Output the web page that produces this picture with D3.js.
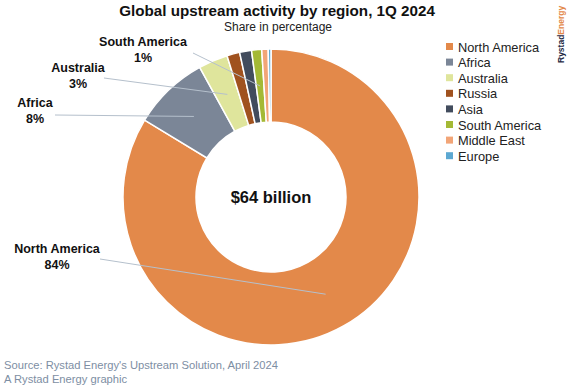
<!DOCTYPE html>
<html lang="en">
  <head>
    <meta charset="utf-8" />
    <title>Global upstream activity by region</title>
    <script src="https://cdn.jsdelivr.net/npm/d3@7"></script>
    <style>
      body { margin: 0; background: #fff; }
      text { font-family: "Liberation Sans", Arial, sans-serif; }
    </style>
  </head>
  <body>
    <script>
      // chart data
      const regions = ["North America", "Africa", "Australia", "Russia", "Asia", "South America", "Middle East", "Europe"];
      const shares = [83.7, 8.3, 3.2, 1.4, 1.3, 1.1, 0.7, 0.3];
      const colors = ["#e3894a", "#7b8697", "#dfe59c", "#a0521f", "#424c5d", "#a4b935", "#f2a577", "#5ca8d2"];
      // regions that get a callout, and the text shown
      const calloutRegions = ["South America", "Australia", "Africa", "North America"];
      const calloutText = ["1%", "3%", "8%", "84%"];

      const W = 567, H = 388;
      const CX = 271, CY = 197, R_OUT = 148, R_IN = 75;

      // where the callout labels sit: text centre x, baseline y, line start x, y
      const calloutPos = {
        "South America": [143, 46, 193, 53],
        "Australia": [78, 72, 104, 78],
        "Africa": [35, 107, 55, 115],
        "North America": [57, 253, 100, 259]
      };

      const svg = d3.select("body").append("svg")
        .attr("width", W).attr("height", H);

      svg.append("text")
        .attr("x", 277).attr("y", 16)
        .attr("text-anchor", "middle")
        .attr("font-size", 15.2).attr("font-weight", "bold")
        .attr("fill", "#111")
        .text("Global upstream activity by region, 1Q 2024");

      svg.append("text")
        .attr("x", 278).attr("y", 31)
        .attr("text-anchor", "middle")
        .attr("font-size", 12)
        .attr("fill", "#222")
        .text("Share in percentage");

      const color = d3.scaleOrdinal().domain(regions).range(colors);

      const pie = d3.pie().sort(null).value(d => d.v);
      const data = regions.map((r, i) => ({ name: r, v: shares[i] }));
      const arcs = pie(data);
      const arc = d3.arc().innerRadius(R_IN).outerRadius(R_OUT);

      const g = svg.append("g").attr("transform", `translate(${CX},${CY})`);

      g.selectAll("path")
        .data(arcs)
        .enter().append("path")
        .attr("d", arc)
        .attr("fill", d => color(d.data.name))
        .attr("stroke", "#fff")
        .attr("stroke-width", 1.5);

      // leader lines from slice centre to label
      calloutRegions.forEach((name, i) => {
        const a = arcs.find(d => d.data.name === name);
        const c = arc.centroid(a);
        const p = calloutPos[name];
        svg.append("line")
          .attr("x1", p[2]).attr("y1", p[3])
          .attr("x2", CX + c[0]).attr("y2", CY + c[1])
          .attr("stroke", "#b5c0cc").attr("stroke-width", 1);
        const t = svg.append("text")
          .attr("x", p[0]).attr("y", p[1])
          .attr("text-anchor", "middle")
          .attr("font-size", 12.5).attr("font-weight", "bold")
          .attr("fill", "#111");
        t.append("tspan").attr("x", p[0]).text(name);
        t.append("tspan").attr("x", p[0]).attr("dy", 15.5).text(calloutText[i]);
      });

      svg.append("text")
        .attr("x", CX).attr("y", CY + 6)
        .attr("text-anchor", "middle")
        .attr("font-size", 16.5).attr("font-weight", "bold")
        .attr("fill", "#111")
        .text("$64 billion");

      // legend
      const leg = svg.append("g").attr("transform", "translate(446,47)");
      const row = leg.selectAll("g").data(regions).enter().append("g")
        .attr("transform", (d, i) => `translate(0,${i * 15.6})`);
      row.append("rect")
        .attr("x", 0).attr("y", -4).attr("width", 7).attr("height", 7)
        .attr("fill", d => color(d));
      row.append("text")
        .attr("x", 12).attr("y", 4.5)
        .attr("font-size", 12.8)
        .attr("fill", "#222")
        .text(d => d);

      // vertical logo
      const logo = svg.append("text")
        .attr("transform", "translate(564,63) rotate(-90)")
        .attr("font-size", 8.5).attr("font-weight", "bold");
      logo.append("tspan").attr("fill", "#1f2a44").text("Rystad");
      logo.append("tspan").attr("fill", "#e3894a").text("Energy");

      // footer
      svg.append("text").attr("x", 4).attr("y", 369)
        .attr("fill", "#7d8ea3").attr("font-size", 11.2)
        .text("Source: Rystad Energy's Upstream Solution, April 2024");
      svg.append("text").attr("x", 4).attr("y", 383)
        .attr("fill", "#7d8ea3").attr("font-size", 11.2)
        .text("A Rystad Energy graphic");
    </script>
  </body>
</html>
